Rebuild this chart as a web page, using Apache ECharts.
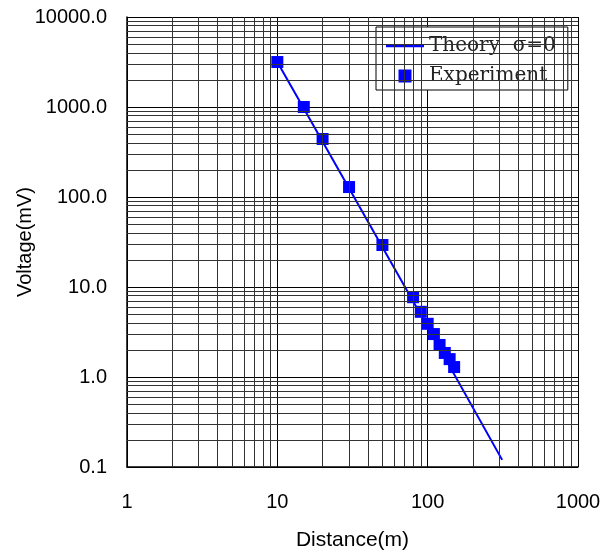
<!DOCTYPE html>
<html>
<head>
<meta charset="utf-8">
<script src="https://cdn.jsdelivr.net/npm/echarts@6/dist/echarts.min.js"></script>
<style>
html, body { margin: 0; padding: 0; background: #fff; }
#main { width: 615px; height: 551px; }
</style>
</head>
<body>
<div id="main"></div>
<script>
// measured points
var expDistance = [10, 15, 20, 30, 50, 80, 90, 100, 110, 120, 130, 140, 150];
var expVoltage = [3160, 1000, 441, 129, 29.3, 7.7, 5.3, 3.9, 3.0, 2.27, 1.85, 1.58, 1.29];

// theory curve, sigma = 0 (straight in log-log)
var theoryDistance = [10, 15, 30, 100, 313];
var theoryVoltage = [3160, 960, 125, 3.6, 0.12];

// minor grid positions
var xMinor = [2, 3, 4, 5, 6, 7, 8, 9, 20, 30, 40, 50, 60, 70, 80, 90, 200, 300, 400, 500, 600, 700, 800, 900];
var yMinor = [0.2, 0.3, 0.4, 0.5, 0.6, 0.7, 0.8, 0.9, 2, 3, 4, 5, 6, 7, 8, 9,
    20, 30, 40, 50, 60, 70, 80, 90, 200, 300, 400, 500, 600, 700, 800, 900,
    2000, 3000, 4000, 5000, 6000, 7000, 8000, 9000];

function zip(a, b) {
    return a.map(function (v, i) { return [v, b[i]]; });
}

var minorLines = [];
xMinor.forEach(function (v) { minorLines.push({ xAxis: v }); });
yMinor.forEach(function (v) { minorLines.push({ yAxis: v }); });

var myChart = echarts.init(document.getElementById('main'));

var option = {
    backgroundColor: '#fff',
    animation: false,
    grid: { left: 127, right: 37, top: 17, bottom: 84, outerBoundsMode: 'none' },
    legend: {
        orient: 'vertical',
        left: 376,
        top: 27,
        padding: [9, 12, 4, 10],
        itemGap: 10,
        itemWidth: 38,
        itemHeight: 13,
        borderColor: '#000',
        borderWidth: 1,
        backgroundColor: '#fff',
        textStyle: { fontFamily: 'DejaVu Serif', fontSize: 20, color: '#222' },
        data: [
            { name: 'Theory  σ=0', icon: 'path://M0,0H38V2.4H0Z' },
            { name: 'Experiment', icon: 'path://M0,0H10V10H0Z' }
        ]
    },
    xAxis: {
        type: 'log',
        logBase: 10,
        min: 1,
        max: 1000,
        name: 'Distance(m)',
        nameLocation: 'middle',
        nameGap: 63,
        nameMoveOverlap: false,
        nameTextStyle: { fontFamily: 'Liberation Sans', fontSize: 21, color: '#000' },
        axisLine: { show: true, lineStyle: { color: '#000', width: 1.5 } },
        axisTick: { show: false },
        axisLabel: {
            margin: 25,
            fontFamily: 'Liberation Sans', fontSize: 20, color: '#000',
            formatter: function (v) { return String(Math.round(v)); }
        },
        splitLine: { show: true, lineStyle: { color: '#000', width: 1 } }
    },
    yAxis: {
        type: 'log',
        logBase: 10,
        min: 0.1,
        max: 10000,
        name: 'Voltage(mV)',
        nameLocation: 'middle',
        nameGap: 92,
        nameMoveOverlap: false,
        nameTextStyle: { fontFamily: 'Liberation Sans', fontSize: 20, color: '#000' },
        axisLine: { show: true, lineStyle: { color: '#000', width: 1.5 } },
        axisTick: { show: false },
        axisLabel: {
            margin: 20,
            fontFamily: 'Liberation Sans', fontSize: 20, color: '#000',
            formatter: function (v) { return Number(v).toFixed(1); }
        },
        splitLine: { show: true, lineStyle: { color: '#000', width: 1 } }
    },
    series: [
        {
            name: 'Theory  σ=0',
            type: 'line',
            data: zip(theoryDistance, theoryVoltage),
            symbol: 'none',
            z: 3,
            lineStyle: { color: '#0000ff', width: 2 },
            itemStyle: { color: '#0000ff' },
            markLine: {
                silent: true,
                symbol: 'none',
                label: { show: false },
                animation: false,
                lineStyle: { color: '#333', width: 1, type: 'solid' },
                emphasis: { disabled: true },
                data: minorLines
            }
        },
        {
            name: 'Experiment',
            type: 'scatter',
            data: zip(expDistance, expVoltage),
            symbol: 'rect',
            symbolSize: 12,
            z: 4,
            itemStyle: { color: '#0000ff', opacity: 1 }
        }
    ]
};

myChart.setOption(option);
</script>
</body>
</html>
